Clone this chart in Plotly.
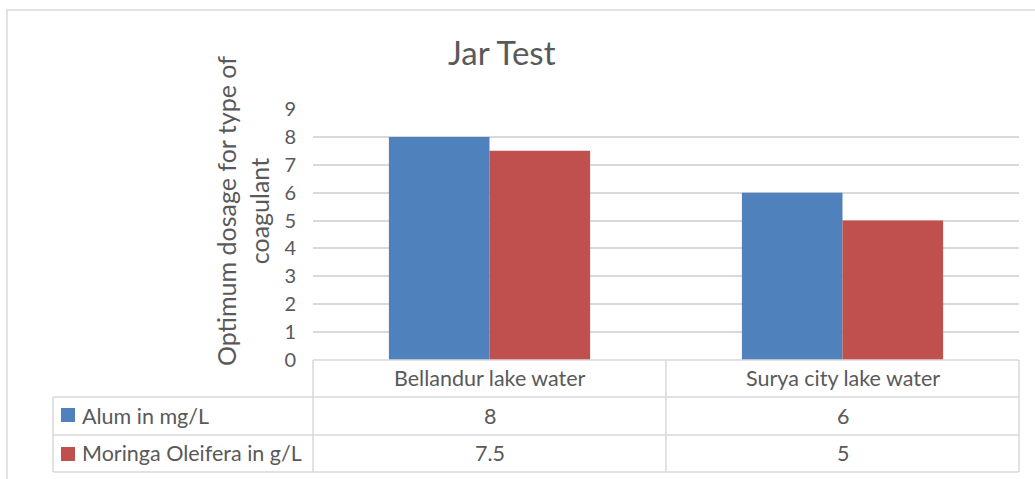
import plotly.graph_objects as go

categories = ["Bellandur lake water", "Surya city lake water"]
series_names = ["Alum in mg/L", "Moringa Oleifera in g/L"]
alum = [8, 6]
moringa = [7.5, 5]
value_labels = [["8", "6"], ["7.5", "5"]]
y_ticks = [0, 1, 2, 3, 4, 5, 6, 7, 8, 9]
colors = ["#4F81BD", "#C0504D"]

W, H = 1035, 479
FONT = "Lato"
GRAY = "#595959"
LINE = "#D9D9D9"

def px(x):
    return x / W

def py(y):
    return 1 - y / H

fig = go.Figure()
for name, vals, col in zip(series_names, [alum, moringa], colors):
    fig.add_trace(go.Bar(x=categories, y=vals, name=name,
                         marker=dict(color=col, line=dict(width=0))))

shapes = []
# outer chart border
shapes.append(dict(type="rect", xref="paper", yref="paper",
                   x0=px(7), x1=px(1045), y0=py(490), y1=py(10),
                   line=dict(color=LINE, width=1.5)))
# table horizontal lines
for y, x0 in [(360, 313), (397, 53), (435, 53), (472, 53)]:
    shapes.append(dict(type="line", xref="paper", yref="paper",
                       x0=px(x0), x1=px(1019), y0=py(y), y1=py(y),
                       line=dict(color=LINE, width=1.5)))
# table vertical lines
for x, y0 in [(53, 397), (313, 360), (666, 360), (1019, 360)]:
    shapes.append(dict(type="line", xref="paper", yref="paper",
                       x0=px(x), x1=px(x), y0=py(y0), y1=py(472),
                       line=dict(color=LINE, width=1.5)))
# legend keys in table
for col, yc in zip(colors, [415, 454]):
    shapes.append(dict(type="rect", xref="paper", yref="paper",
                       x0=px(61), x1=px(75), y0=py(yc + 7), y1=py(yc - 7),
                       fillcolor=col, line=dict(width=0)))

TF = dict(family=FONT, size=21.5, color=GRAY)
annotations = []
# header row
for c in categories:
    annotations.append(dict(x=c, xref="x", y=py(378), yref="paper",
                            text=c, showarrow=False, xanchor="center",
                            yanchor="middle", font=TF))
# value rows
for row, yc in zip(value_labels, [416, 453]):
    for c, t in zip(categories, row):
        annotations.append(dict(x=c, xref="x", y=py(yc), yref="paper",
                                text=t, showarrow=False, xanchor="center",
                                yanchor="middle", font=TF))
# series names
for name, yc in zip(series_names, [416, 453]):
    annotations.append(dict(x=px(80), xref="paper", y=py(yc), yref="paper",
                            text=name, showarrow=False, xanchor="left",
                            yanchor="middle", font=TF))
# y axis title
annotations.append(dict(x=px(242), xref="paper", y=py(211), yref="paper",
                        text="Optimum dosage for type of<br>coagulant",
                        showarrow=False, textangle=-90,
                        xanchor="center", yanchor="middle",
                        font=dict(family=FONT, size=25, color=GRAY)))
# chart title
annotations.append(dict(x=px(502), xref="paper", y=py(52), yref="paper",
                        text="Jar Test", showarrow=False,
                        xanchor="center", yanchor="middle",
                        font=dict(family=FONT, size=33, color=GRAY)))

fig.update_layout(
    width=W, height=H,
    margin=dict(l=0, r=0, t=0, b=0, pad=0),
    paper_bgcolor="white", plot_bgcolor="white",
    barmode="group", bargap=0.43, bargroupgap=0,
    showlegend=False,
    xaxis=dict(domain=[px(313), px(1019)], showticklabels=False,
               showgrid=False, zeroline=False, showline=False, ticks="",
               automargin=False),
    yaxis=dict(domain=[py(360), py(109)], range=[0, 9], tickvals=y_ticks,
               showgrid=True, gridcolor=LINE, gridwidth=1.5,
               zeroline=False, showline=False, ticks="",
               ticklabelstandoff=16, automargin=False,
               tickfont=dict(family=FONT, size=20, color=GRAY)),
    shapes=shapes,
    annotations=annotations,
)

fig.write_html("out.html",
               config={"displayModeBar": False},
               post_script="document.body.style.margin='0';document.body.style.overflow='hidden';")
